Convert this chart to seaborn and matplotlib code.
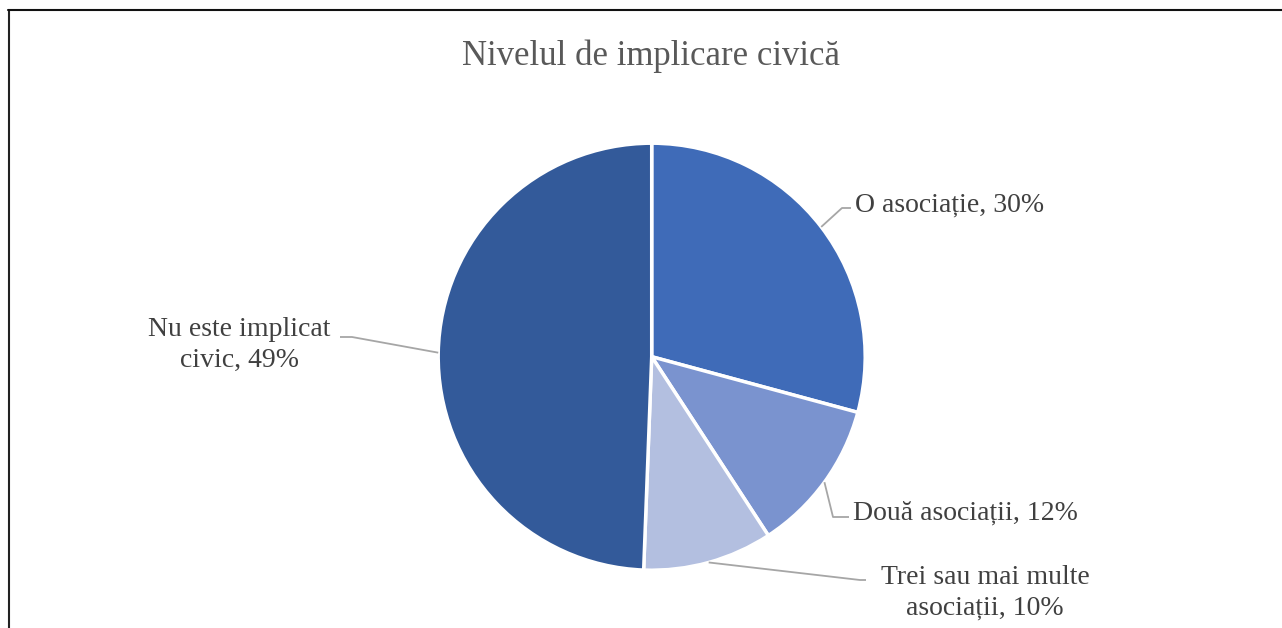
import numpy as np
import matplotlib
matplotlib.use("Agg")
import matplotlib.pyplot as plt
from matplotlib.lines import Line2D
import seaborn as sns

# data
categories = ["O asociație", "Două asociații", "Trei sau mai multe\nasociații", "Nu este implicat\ncivic"]
shares = [29.2, 11.6, 9.8, 49.4]      # slice sizes as drawn
pct_labels = [30, 12, 10, 49]         # percentages as printed on the labels
colors = ["#3F6BB8", "#7A93CF", "#B3BFE0", "#335A9A"]

W, H = 1282, 628

sns.set_theme(style="white")
plt.rcParams["font.family"] = ["Liberation Serif", "DejaVu Serif"]

fig = plt.figure(figsize=(W / 100, H / 100), dpi=100)
ax = fig.add_axes([0, 0, 1, 1])

cx, cy, r = 651.7, H - 356.7, 213.5
wedges, _ = ax.pie(shares, colors=colors, startangle=90, counterclock=False,
                   center=(cx, cy), radius=r, frame=True,
                   wedgeprops=dict(edgecolor="white", linewidth=2.5))
ax.set_xlim(0, W)
ax.set_ylim(0, H)
ax.set_aspect("equal")
ax.axis("off")

# label layout in pixel coords (y from top): elbow, line end, text anchor, ha
layout = [
    ((842, 208), (851, 208), (855, 205), "left"),
    ((833, 517), (849, 517), (853, 513), "left"),
    ((860, 580), (866, 580), (985, 593), "center"),
    ((352, 337), (340, 337), (239, 345), "center"),
]

for w, cat, pct, (elbow, end, txt, ha) in zip(wedges, categories, pct_labels, layout):
    mid = np.deg2rad((w.theta1 + w.theta2) / 2)
    sx, sy = cx + r * np.cos(mid), cy + r * np.sin(mid)
    ax.plot([sx, elbow[0], end[0]], [sy, H - elbow[1], H - end[1]],
            color="#A6A6A6", lw=1.3, solid_capstyle="butt")
    ax.text(txt[0], H - txt[1], f"{cat}, {pct}%", ha=ha, va="center",
            fontsize=20, color="#404040", linespacing=1.32)

ax.text(651, H - 56, "Nivelul de implicare civică", ha="center", va="center",
        fontsize=25, color="#595959")

# outer frame (right and bottom fall outside the image)
fig.add_artist(Line2D([8.5 / W, 8.5 / W], [0, 1 - 10 / H], color="#222222", lw=1.5))
fig.add_artist(Line2D([8 / W, 1], [1 - 10 / H, 1 - 10 / H], color="#111111", lw=1.5))

fig.savefig("out.png", dpi=100, facecolor="white")
